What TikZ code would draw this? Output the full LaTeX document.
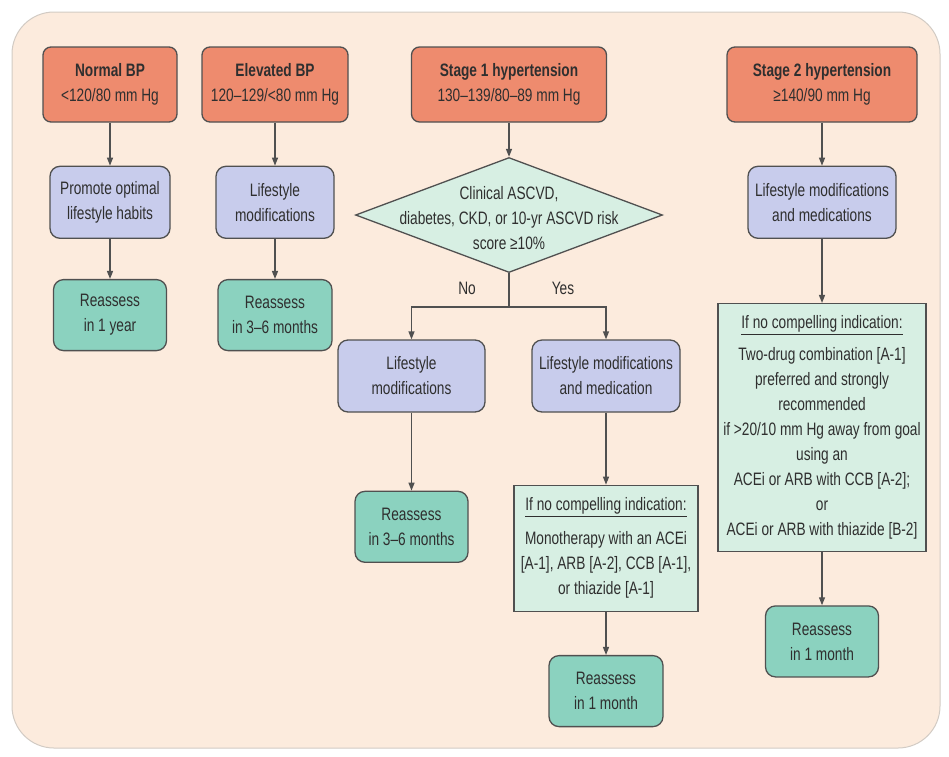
\documentclass[tikz,border=0pt]{standalone}
\usepackage{fontspec}
\setmainfont{Liberation Sans}[FakeStretch=0.76]
\usepackage{xcolor}
\definecolor{bpbg}{HTML}{FCEBDD}
\definecolor{bpframe}{HTML}{D2CBC4}
\definecolor{bpedge}{HTML}{505050}
\definecolor{bpink}{HTML}{2F2F2F}
\definecolor{bpred}{HTML}{EE8B6E}
\definecolor{bplilac}{HTML}{C8CCEC}
\definecolor{bpteal}{HTML}{8BD2BF}
\definecolor{bpmint}{HTML}{D7EFE3}
\usetikzlibrary{arrows.meta, positioning, shapes}
\tikzset{
    box/.style={
        draw=bpedge, line width=1.3pt,
        text=bpink, align=center,
        inner sep=2pt,
        font=\fontsize{18}{25}\selectfont
    },
    stage/.style={box, rounded corners=8pt, fill=bpred, minimum height=75pt},
    action/.style={box, rounded corners=10pt, fill=bplilac, minimum height=72pt},
    recheck/.style={box, rounded corners=10pt, fill=bpteal, minimum height=71pt},
    note/.style={box, fill=bpmint},
    decision/.style={diamond, draw=bpedge, line width=1.3pt, fill=bpmint,
        inner sep=0pt, minimum width=307pt, minimum height=115pt},
    lbl/.style={text=bpink, font=\fontsize{18}{25}\selectfont},
    conn/.style={
        line width=1.3pt, draw=bpedge,
        -{Triangle[width=6pt,length=8pt]},
    },
}

\begin{document}
\begin{tikzpicture}[x=1pt, y=-1pt]
    \useasboundingbox (0,0) rectangle (949,756);
    % background panel
    \draw[bpframe, fill=bpbg, line width=1pt, rounded corners=42pt] (12,12) rectangle (940,748);

    % normal and elevated
    \node[stage, minimum width=134pt] (normal) at (110,84.5) {\textbf{Normal BP}\\<120/80 mm Hg};
    \node[action, minimum width=120pt, below=43pt of normal] (promote) {Promote optimal\\lifestyle habits};
    \node[recheck, minimum width=113pt, below=40pt of promote] (rsnormal) {Reassess\\in 1 year};

    \node[stage, minimum width=146pt] (elevated) at (275,84.5) {\textbf{Elevated BP}\\120–129/<80 mm Hg};
    \node[action, minimum width=118pt, below=43pt of elevated] (lifeelev) {Lifestyle\\modifications};
    \node[recheck, minimum width=114pt, below=40pt of lifeelev] (rselev) {Reassess\\in 3–6 months};

    % stage 1
    \node[stage, minimum width=195pt] (stageone) at (509,84.5) {\textbf{Stage 1 hypertension}\\130–139/80–89 mm Hg};
    \node[decision] (risk) at (509,215) {};
    \node[lbl, align=center] (risktxt) at (509,218) {Clinical ASCVD,\\diabetes, CKD, or 10-yr ASCVD risk\\score ≥10\%};
    \coordinate (split) at (509,307);
    \node[lbl] (no) at (467,288) {No};
    \node[lbl] (yes) at (563,288) {Yes};

    \node[action, minimum width=147pt] (lifeno) at (411.5,376) {Lifestyle\\modifications};
    \node[recheck, minimum width=113pt, below=78pt of lifeno] (rsno) {Reassess\\in 3–6 months};
    \node[action, minimum width=148pt] (medsyes) at (606,376) {Lifestyle modifications\\and medication};
    \node[note, minimum width=184pt, minimum height=126pt, below=72pt of medsyes] (mono)
        {\underline{If no compelling indication:}\\[9pt]Monotherapy with an ACEi\\{}[A-1], ARB [A-2], CCB [A-1],\\or thiazide [A-1]};
    \node[recheck, minimum width=114pt, below=43pt of mono] (rsyes) {Reassess\\in 1 month};

    % stage 2
    \node[stage, minimum width=190pt] (stagetwo) at (822,84.5) {\textbf{Stage 2 hypertension}\\≥140/90 mm Hg};
    \node[action, minimum width=148pt, below=43pt of stagetwo] (medstwo) {Lifestyle modifications\\and medications};
    \node[note, minimum width=208pt, minimum height=248pt, below=64pt of medstwo] (combo)
        {\underline{If no compelling indication:}\\[7pt]Two-drug combination [A-1]\\preferred and strongly\\recommended\\if >20/10 mm Hg away from goal\\using an\\ACEi or ARB with CCB [A-2];\\or\\ACEi or ARB with thiazide [B-2]};
    \node[recheck, minimum width=113pt, below=53pt of combo] (rstwo) {Reassess\\in 1 month};

    % connectors
    \draw[conn] (normal) -- (promote);
    \draw[conn] (promote) -- (rsnormal);
    \draw[conn] (elevated) -- (lifeelev);
    \draw[conn] (lifeelev) -- (rselev);
    \draw[conn] (stageone) -- (risk);
    \draw[line width=1.3pt, draw=bpedge] (risk.south) -- (split);
    \draw[conn] (split) -| (lifeno);
    \draw[conn] (split) -| (medsyes);
    \draw[conn] (lifeno) -- (rsno);
    \draw[conn] (medsyes) -- (mono);
    \draw[conn] (mono) -- (rsyes);
    \draw[conn] (stagetwo) -- (medstwo);
    \draw[conn] (medstwo) -- (combo);
    \draw[conn] (combo) -- (rstwo);
\end{tikzpicture}
\end{document}
